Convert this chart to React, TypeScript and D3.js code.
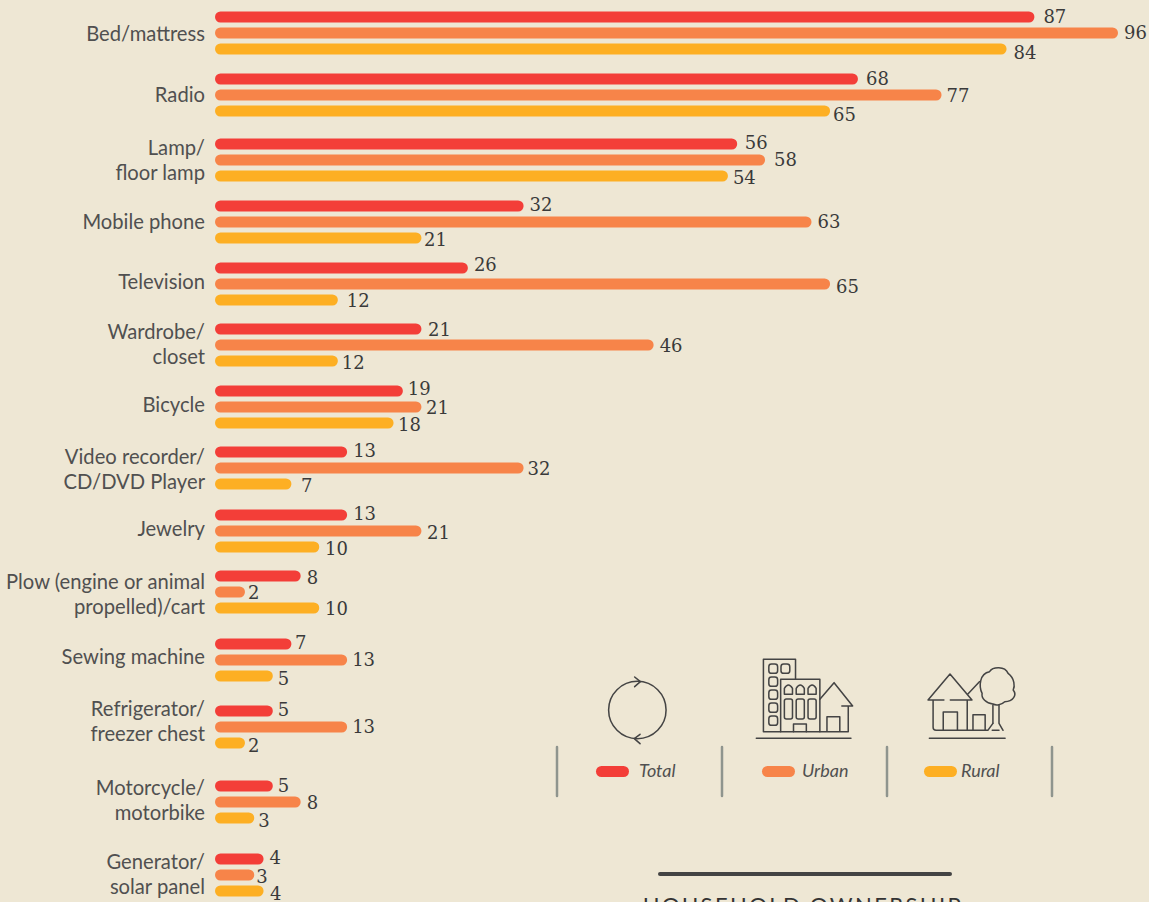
import React from "react";
import * as d3 from "d3";

const categories = ["Bed/mattress","Radio","Lamp/|floor lamp","Mobile phone","Television","Wardrobe/|closet","Bicycle","Video recorder/|CD/DVD Player","Jewelry","Plow (engine or animal|propelled)/cart","Sewing machine","Refrigerator/|freezer chest","Motorcycle/|motorbike","Generator/|solar panel"];
const total = [87,68,56,32,26,21,19,13,13,8,7,5,5,4];
const urban = [96,77,58,63,65,46,21,32,21,2,13,13,8,3];
const rural = [84,65,54,21,12,12,18,7,10,10,5,2,3,4];
// the lamp bar in the reference is drawn slightly shorter than its printed label
const totalBar = [87,68,55,32,26,21,19,13,13,8,7,5,5,4];
const seriesNames = ["Total","Urban","Rural"];
const seriesColors = ["#F33E38","#F78449","#FDAF23"];

// layout
const groupCenters = [33,95,160,222,284,345,407,468,531,592,660,727,802,875];
const labelCenters = [33,94,160,221,281,344,404,469,528,594,656,721,800,874];
const legendX = [596,762,924];
const legendTextX = [639,802,961];
const separators = [557,722,887,1052];
const labelDx = [
  [9,8,7.5,6,6,6.5,5,6,6,6,3.5,5,5,6],
  [6,5,9,6,6,6,4.5,4,5.5,3,5,5,6,2],
  [7,3,5,2.5,9,4,4.5,9.5,5.7,5.7,5,3,4,6.4],
];
const labelDy = [
  [-1,-1,-2,-2,-4,0,-3,-2,-2,1,-2,-2,-1,-2],
  [-1,0,-1,-1,2,0,0,0,1,0,-1,-1,0,1],
  [3,3,1,1,0,1,1,1,1,0,2,2,2,2],
];

const x = d3.scaleLinear().domain([0,96]).range([226.4,1118]);
const y = d3.scaleOrdinal<string,number>().domain(categories).range(groupCenters);
const labelY = d3.scaleOrdinal<string,number>().domain(categories).range(labelCenters);
const barOffset = d3.scaleOrdinal<number,number>().domain([0,1,2]).range([-16,0,16]);
const INK = "#505050";
const ICON = "#444";

function rr(x0:number,y0:number,x1:number,y1:number,r=8){return <rect x={x0} y={y0} width={x1-x0} height={y1-y0} rx={r}/>;}

export default function App(){
  const printed=[total,urban,rural];
  const bars=[totalBar,urban,rural];
  return (
    <svg width={1149} height={902} style={{position:"absolute",left:0,top:0,background:"#EEE7D4",display:"block"}}>
      {categories.map((c,i)=>{
        const lines=c.split("|");
        const cy=y(c);
        return <g key={c}>
          {lines.map((l,k)=><text key={l} x={205} y={labelY(c)+(k-(lines.length-1)/2)*25.5+7.5} textAnchor="end" fontFamily="Lato" fontSize={20.2} fill={INK}>{l}</text>)}
          {bars.map((s,j)=>{
            const by=cy+barOffset(j);
            return <g key={j}>
              <rect x={215} y={by-5.5} width={x(s[i])-215} height={11} rx={5.5} fill={seriesColors[j]}/>
              <text x={x(s[i])+labelDx[j][i]} y={by+labelDy[j][i]+6.5} fontFamily="DejaVu Serif" fontSize={18} fill="#3a3a3a">{printed[j][i]}</text>
            </g>;
          })}
        </g>;
      })}
      {separators.map(s=><line key={s} x1={s} x2={s} y1={747} y2={796} stroke="#8f958e" strokeWidth={2.5} strokeLinecap="round"/>)}
      {seriesNames.map((n,j)=><g key={n}>
        <rect x={legendX[j]} y={766} width={33} height={11} rx={5.5} fill={seriesColors[j]}/>
        <text x={legendTextX[j]} y={777} fontFamily="Lato" fontStyle="italic" fontSize={18} fill={INK}>{n}</text>
      </g>)}
      <line x1={660} x2={950} y1={874} y2={874} stroke="#444" strokeWidth={4} strokeLinecap="round"/>
      <text x={803} y={913} textAnchor="middle" fontFamily="Lato" fontSize={22} letterSpacing={2.4} fill="#333">HOUSEHOLD OWNERSHIP</text>
      <g transform="translate(540,640) scale(0.338,0.3333)" fill="none" stroke={ICON} strokeWidth={4.5} strokeLinejoin="round" strokeLinecap="round">
        <ellipse cx={288} cy={210} rx={85} ry={86}/>
        <path d="M280,111 L297,125 L280,140 M296,283 L279,296 L296,311"/>
        <path d="M712,275 H661 V58 H756 V118"/>
        {[72,111,150,189,228].map(a=><React.Fragment key={a}>{rr(677,a,703,a+28)}</React.Fragment>)}
        {rr(713,72,739,100)}
        <rect x={712} y={118} width={116} height={157}/>
        {[723,758,793].map(a=><React.Fragment key={a}>
          <path d={`M${a},163 V145 Q${a+12},125 ${a+24},145 V163 Z`}/>
          {rr(a,177,a+24,237,6)}
        </React.Fragment>)}
        <path d="M750,275 V252 H788 V275"/>
        <path d="M828,178 L870,128 L925,198 H893 M912,198 V275 H828 M849,275 V230 H887 V275"/>
        <path d="M640,295 H920"/>
        <path d="M1195,180 H1148 L1213,102 L1278,180 H1214 M1163,180 V262 Q1163,271 1172,271 H1325 L1340,250 M1264,180 V271 M1193,271 V216 H1235 V271 M1281,271 V224 H1317 V271 M1266,162 L1300,125"/>
        <path d="M1340,192 C1320,190 1305,175 1308,160 C1298,140 1300,100 1330,95 C1340,80 1375,78 1385,100 C1405,115 1405,140 1400,150 C1412,165 1400,185 1375,185 C1365,195 1350,197 1340,192 Z"/>
        <path d="M1340,195 V250 M1358,195 V250 L1370,271 M1338,271 H1358"/>
        <path d="M1152,295 H1376"/>
      </g>
    </svg>
  );
}
